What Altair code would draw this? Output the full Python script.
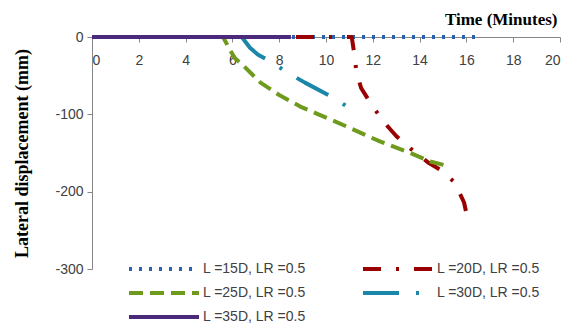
import altair as alt
import pandas as pd

series_names = ["L =15D, LR =0.5", "L =20D, LR =0.5", "L =25D, LR =0.5",
                "L =30D, LR =0.5", "L =35D, LR =0.5"]
colors = ["#2A62B0", "#990000", "#6E9A1E", "#1A86A8", "#4B2A7B"]
dashes = [[3, 7], [18, 15, 3, 15], [14, 7], [36, 17, 3, 17], [1, 0]]

t15 = [0, 2, 4, 6, 8, 10, 12, 14, 16, 16.5]
d15 = [0, 0, 0, 0, 0, 0, 0, 0, 0, 0]

t20 = [0, 11.1, 11.2, 11.3, 11.5, 12.0, 12.5, 13.0, 13.6, 14.4, 14.9, 15.5, 15.9, 16.0]
d20 = [0, 0, -20, -45, -66, -90, -111, -128, -144, -163, -172, -188, -214, -228]

t25 = [0, 5.6, 5.9, 6.1, 6.5, 7.2, 8.0, 8.9, 9.6, 10.9, 12.3, 13.6, 14.45, 15.1]
d25 = [0, 0, -17, -27, -38, -59, -75, -90, -99, -116, -135, -150, -161, -166]

t30 = [0, 6.4, 6.75, 7.1, 7.7, 8.35, 9.1, 10.4, 11.05]
d30 = [0, 0, -14, -23, -33, -46, -59, -80, -93]

t35 = [0, 8.5]
d35 = [0, 0]

x_ticks = [0, 2, 4, 6, 8, 10, 12, 14, 16, 18, 20]
y_ticks = [-300, -200, -100, 0]

rows = []
for i, (ts, ds) in enumerate([(t15, d15), (t20, d20), (t25, d25), (t30, d30), (t35, d35)]):
    for k, (t, d) in enumerate(zip(ts, ds)):
        rows.append({"series": series_names[i], "order": i, "idx": k, "time": t, "disp": d})
df = pd.DataFrame(rows)

label_font = "Liberation Sans"
serif = "Liberation Serif"

chart = alt.Chart(df).mark_line(strokeWidth=4, strokeJoin="round").encode(
    x=alt.X("time:Q", scale=alt.Scale(domain=[0, 20], nice=False),
            axis=alt.Axis(orient="bottom", offset=-232, values=x_ticks, tickSize=5,
                          labelPadding=11, grid=False, domainColor="#868686", tickColor="#868686",
                          labelColor="#404040", labelFont=label_font, labelFontSize=14,
                          title="Time (Minutes)", titleX=465, titleY=-13, titleAlign="right",
                          titleBaseline="alphabetic", titleFont=serif, titleFontWeight="bold",
                          titleFontSize=17, titleColor="#000000")),
    y=alt.Y("disp:Q", scale=alt.Scale(domain=[-300, 0], nice=False),
            axis=alt.Axis(values=y_ticks, tickSize=5, labelPadding=4, grid=False,
                          labelExpr="datum.value == 0 ? '0' : '-' + abs(datum.value)",
                          domainColor="#868686", tickColor="#868686",
                          labelColor="#404040", labelFont=label_font, labelFontSize=14,
                          title="Lateral displacement (mm)", titleX=-70, titleY=116,
                          titleAngle=-90, titleAlign="center", titleBaseline="middle",
                          titleFont=serif, titleFontWeight="bold", titleFontSize=18,
                          titleColor="#000000")),
    color=alt.Color("series:N", scale=alt.Scale(domain=series_names, range=colors),
                    legend=alt.Legend(orient="none", legendX=35, legendY=223, columns=2,
                                      direction="horizontal", clipHeight=18,
                                      columnPadding=55, rowPadding=6, title=None,
                                      symbolType="stroke", symbolSize=4900,
                                      symbolStrokeWidth=4, labelFont=label_font,
                                      labelFontSize=14, labelColor="#404040", labelOffset=2)),
    strokeDash=alt.StrokeDash("series:N", scale=alt.Scale(domain=series_names, range=dashes)),
    detail="order:O",
    order="idx:Q",
).properties(
    width=468, height=232,
    autosize=alt.AutoSizeParams(type="none"),
    padding={"left": 92, "top": 37, "right": 19, "bottom": 58},
).configure_view(stroke=None)

chart.save("out.html", embed_options={"renderer": "svg", "actions": False})
